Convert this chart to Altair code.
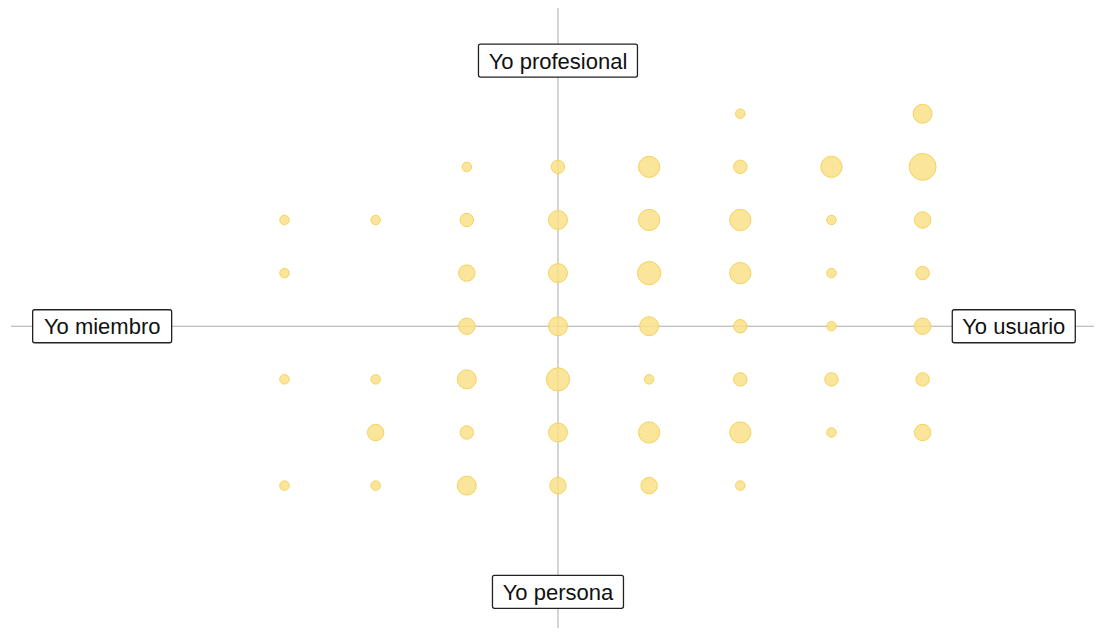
import altair as alt
import pandas as pd

# Bubble grid: position on the two axes and number of responses
x_vals = [2, 4,
          -1, 0, 1, 2, 3, 4,
          -3, -2, -1, 0, 1, 2, 3, 4,
          -3, -1, 0, 1, 2, 3, 4,
          -1, 0, 1, 2, 3, 4,
          -3, -2, -1, 0, 1, 2, 3, 4,
          -2, -1, 0, 1, 2, 3, 4,
          -3, -2, -1, 0, 1, 2]
y_vals = [4, 4,
          3, 3, 3, 3, 3, 3,
          2, 2, 2, 2, 2, 2, 2, 2,
          1, 1, 1, 1, 1, 1, 1,
          0, 0, 0, 0, 0, 0,
          -1, -1, -1, -1, -1, -1, -1, -1,
          -2, -2, -2, -2, -2, -2, -2,
          -3, -3, -3, -3, -3, -3]
n_vals = [1, 4,
          1, 2, 5, 2, 5, 8,
          1, 1, 2, 4, 5, 5, 1, 3,
          1, 3, 4, 6, 5, 1, 2,
          3, 4, 4, 2, 1, 3,
          1, 1, 4, 6, 1, 2, 2, 2,
          3, 2, 4, 5, 5, 1, 3,
          1, 1, 4, 3, 3, 1]

# Axis end labels
label_text = ["Yo profesional", "Yo persona", "Yo miembro", "Yo usuario"]
label_x = [0, 0, -5, 5]
label_y = [5, -5, 0, 0]

points = pd.DataFrame({"x": x_vals, "y": y_vals, "n": n_vals})
labels = pd.DataFrame({"label": label_text, "x": label_x, "y": label_y})

# box widths (px) for label frames - styling only
box_w = {"Yo profesional": 159, "Yo persona": 131, "Yo miembro": 139, "Yo usuario": 123}
box_h = 33
unit = 10.0  # custom symbol scale: sqrt(size)/2


def box_path(w, h, r=2.0):
    a = w / 2 / unit
    b = h / 2 / unit
    c = r / unit
    return (f"M{-a + c},{-b}H{a - c}Q{a},{-b} {a},{-b + c}V{b - c}Q{a},{b} {a - c},{b}"
            f"H{-a + c}Q{-a},{b} {-a},{b - c}V{-b + c}Q{-a},{-b} {-a + c},{-b}Z")


paths = [box_path(box_w[t], box_h) for t in label_text]

xscale = alt.Scale(domain=[-6, 5.88], nice=False, zero=False)
yscale = alt.Scale(domain=[-5.68, 5.99], nice=False, zero=False)

base_x = alt.X("x:Q", scale=xscale, axis=None)
base_y = alt.Y("y:Q", scale=yscale, axis=None)

vline = alt.Chart(pd.DataFrame({"x": [0]})).mark_rule(color="#ababab", strokeWidth=1).encode(
    x=alt.X("x:Q", scale=xscale, axis=None)
)
hline = alt.Chart(pd.DataFrame({"y": [0]})).mark_rule(color="#ababab", strokeWidth=1).encode(
    y=alt.Y("y:Q", scale=yscale, axis=None)
)

bubbles = alt.Chart(points).mark_circle(
    fill="#F9E189", fillOpacity=0.85, stroke="#F4D35C", strokeWidth=1, opacity=1
).encode(
    x=base_x,
    y=base_y,
    size=alt.Size("n:Q", scale=alt.Scale(domain=[0, 8], range=[0, 720]), legend=None),
)

boxes = alt.Chart(labels).mark_point(
    filled=True, fill="white", stroke="#222222", strokeWidth=1.3, opacity=1, size=4 * unit * unit
).encode(
    x=base_x,
    y=base_y,
    shape=alt.Shape("label:N", scale=alt.Scale(domain=label_text, range=paths), legend=None),
)

texts = alt.Chart(labels).mark_text(
    font="Liberation Sans", fontSize=22, color="#111111", align="center", baseline="middle", dy=1
).encode(
    x=base_x,
    y=base_y,
    text="label:N",
)

chart = alt.layer(vline, hline, bubbles, boxes, texts).properties(
    width=1083,
    height=620,
    padding={"left": 3, "top": 0, "right": 0, "bottom": 0},
    autosize=alt.AutoSizeParams(type="none"),
).configure_view(stroke=None)

chart.save("out.html", embed_options={"renderer": "svg", "actions": False})
